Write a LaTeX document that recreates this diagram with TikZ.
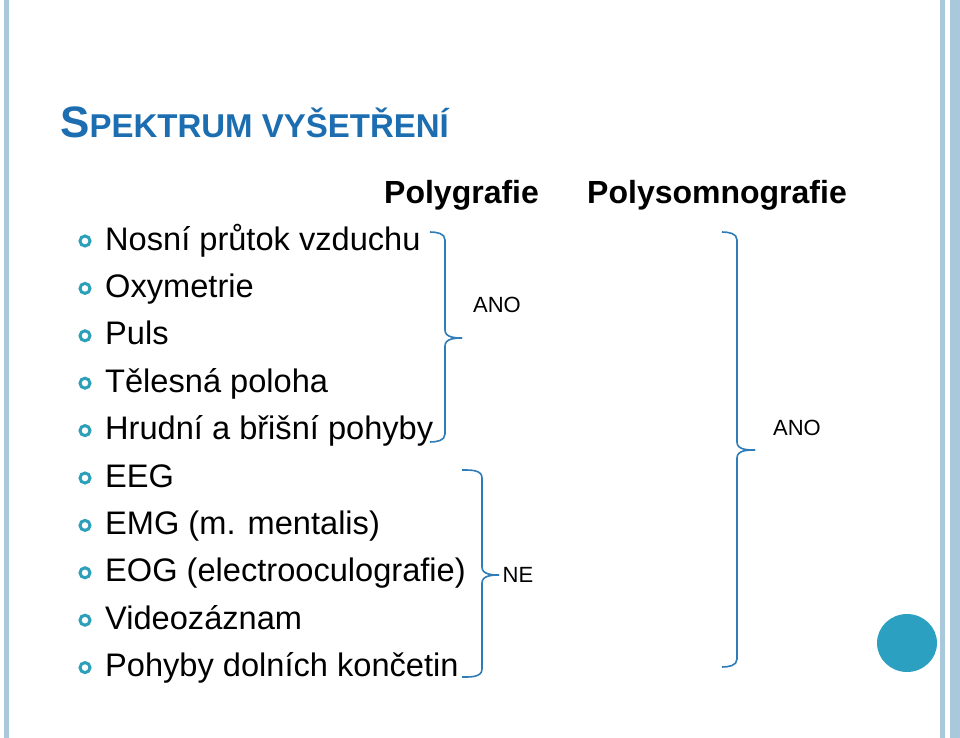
\documentclass[tikz,border=0pt]{standalone}
\usepackage{fontspec}
\setmainfont{Liberation Sans}
\definecolor{ttl}{RGB}{28,110,176}
\definecolor{bulc}{RGB}{45,160,185}
\definecolor{brcc}{RGB}{46,124,184}
\definecolor{circ}{RGB}{43,160,192}
\definecolor{bord}{RGB}{170,200,220}
\begin{document}
\begin{tikzpicture}[x=1pt,y=-1pt,
  item/.style={anchor=base west,font=\fontsize{32.6}{33}\selectfont,inner sep=0},
  bul/.style={draw=bulc,line width=3pt,circle,minimum size=10pt,inner sep=0},
  brc/.style={draw=brcc,line width=1.6pt},
  lbl/.style={font=\fontsize{22}{22}\selectfont,inner sep=0}]
\useasboundingbox (0,0) rectangle (960,738);
\fill[bord] (4,0) rectangle (9,738);
\fill[bord] (940,0) rectangle (945,738);
\fill[bord] (950,0) rectangle (960,738);
\node[anchor=base west,inner sep=0,text=ttl,font=\bfseries] (title) at (60,138)
 {\fontsize{44}{44}\selectfont S\fontsize{33}{33}\selectfont PEKTRUM VYŠETŘENÍ};
\node[anchor=base west,inner sep=0,font=\bfseries\fontsize{32}{32}\selectfont] (h1) at (384,203) {Polygrafie};
\node[anchor=base west,inner sep=0,font=\bfseries\fontsize{32}{32}\selectfont] (h2) at (587,203) {Polysomnografie};
\foreach \t [count=\i] in {Nosní průtok vzduchu,Oxymetrie,Puls,Tělesná poloha,Hrudní a břišní pohyby,EEG,EMG (m. mentalis),EOG (electrooculografie),Videozáznam,Pohyby dolních končetin}{
  \node[item] (t\i) at (105,{250+47.4*(\i-1)}) {\t};
  \node[bul] (b\i) at (85,{241+47.4*(\i-1)}) {};
}
% brace 1
\coordinate (a1) at (430,232); \coordinate (a2) at (430,442); \coordinate (a3) at (462,338);
\draw[brc] (a1) to[out=0,in=90] (445,240) -- (445,330) to[out=-90,in=180] (a3);
\draw[brc] (a3) to[out=180,in=90] (445,346) -- (445,434) to[out=-90,in=0] (a2);
\node[lbl] (ano1) at (497,305) {ANO};
% brace 2
\coordinate (c1) at (462,470); \coordinate (c2) at (462,677); \coordinate (c3) at (499,575);
\draw[brc] (c1) to[out=0,in=90] (482,478) -- (482,567) to[out=-90,in=180] (c3);
\draw[brc] (c3) to[out=180,in=90] (482,583) -- (482,669) to[out=-90,in=0] (c2);
\node[lbl] (ne) at (518,575) {NE};
% brace 3
\coordinate (d1) at (722,232); \coordinate (d2) at (722,667); \coordinate (d3) at (755,450);
\draw[brc] (d1) to[out=0,in=90] (737,240) -- (737,442) to[out=-90,in=180] (d3);
\draw[brc] (d3) to[out=180,in=90] (737,458) -- (737,659) to[out=-90,in=0] (d2);
\node[lbl] (ano2) at (797,428) {ANO};
\fill[circ] (907,643) ellipse (30 and 29);
\end{tikzpicture}
\end{document}
